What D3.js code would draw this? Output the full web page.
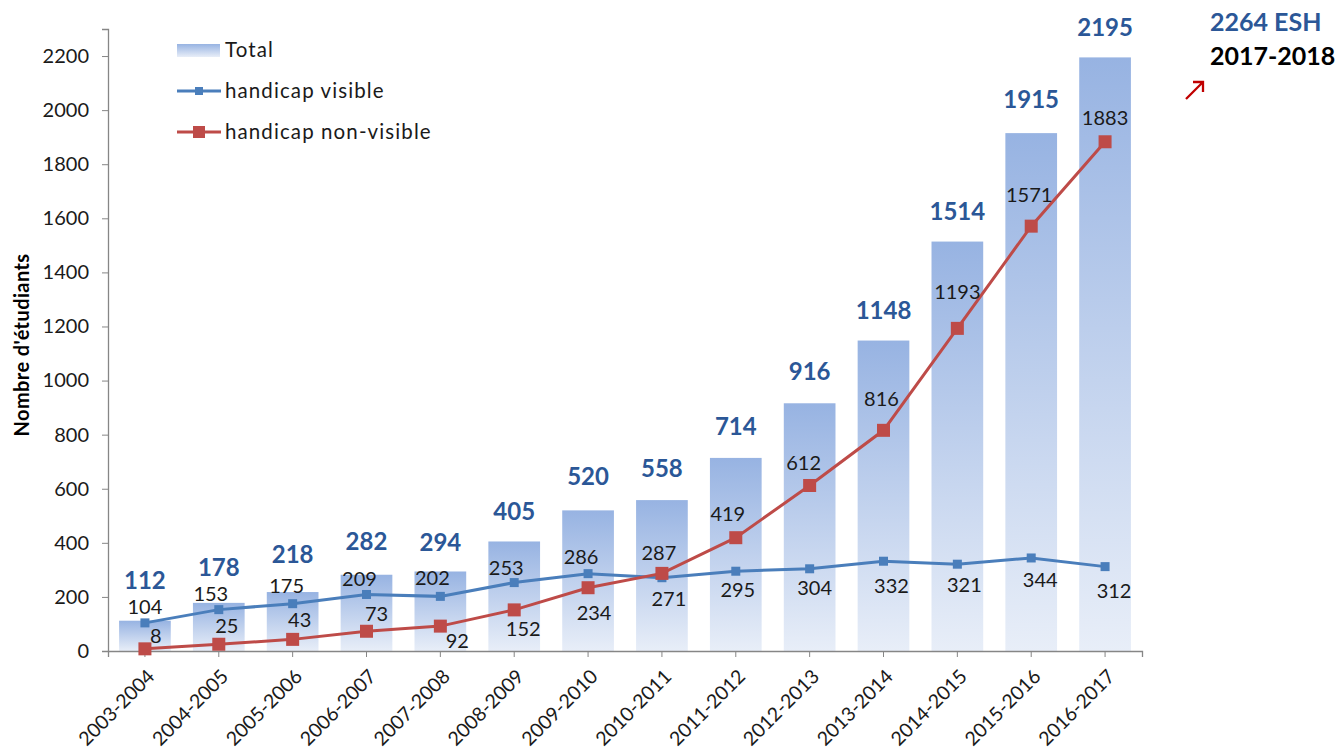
<!DOCTYPE html>
<html>
  <head>
    <meta charset="utf-8">
    <title>Nombre d'étudiants</title>
    <script src="https://cdn.jsdelivr.net/npm/d3@7/dist/d3.min.js"></script>
    <style>
      body {
        margin: 0;
        background: #fff;
      }
      svg {
        display: block;
        font-family: Lato, "Open Sans", sans-serif;
      }
    </style>
  </head>
  <body>
    <script>
    // data
    var years = ["2003-2004", "2004-2005", "2005-2006", "2006-2007", "2007-2008", "2008-2009", "2009-2010",
                 "2010-2011", "2011-2012", "2012-2013", "2013-2014", "2014-2015", "2015-2016", "2016-2017"];
    var total = [112, 178, 218, 282, 294, 405, 520, 558, 714, 916, 1148, 1514, 1915, 2195];
    var visible = [104, 153, 175, 209, 202, 253, 286, 271, 295, 304, 332, 321, 344, 312];
    var nonVisible = [8, 25, 43, 73, 92, 152, 234, 287, 419, 612, 816, 1193, 1571, 1883];
    var yTicks = [0, 200, 400, 600, 800, 1000, 1200, 1400, 1600, 1800, 2000, 2200];

    // label nudges (px), as placed in the original
    var totalLift = [40, 35, 37, 33, 29, 30, 34, 31, 31, 32, 30, 30, 34, 30];
    var visibleDx = [0, -8, -6, -7, -8, -8, -7, 7, 2, 5, 8, 7, 9, 9];
    var visibleDy = [-16, -16, -18, -15, -18, -15, -17, 21, 19, 19, 25, 21, 22, 24];
    var nonVisibleDx = [11, 8, 7, 10, 17, 9, 6, -3, -8, -6, -2, 0, -2, 0];
    var nonVisibleDy = [-13, -18, -19, -17, 15, 19, 25, -20, -24, -22, -31, -36, -31, -24];

    var W = 1340, H = 751;
    var blue = "#4a7ebb", red = "#be4b48", navy = "#2b5797";

    var svg = d3.select("body").append("svg")
      .attr("width", W)
      .attr("height", H);

    var defs = svg.append("defs");
    var grad = defs.append("linearGradient")
      .attr("id", "barGrad")
      .attr("x1", 0).attr("y1", 0).attr("x2", 0).attr("y2", 1);
    grad.append("stop").attr("offset", "0%").attr("stop-color", "#97b3e2");
    grad.append("stop").attr("offset", "100%").attr("stop-color", "#e8eef8");

    var x = d3.scaleBand()
      .domain(years)
      .range([108, 1142])
      .paddingInner(0.3)
      .paddingOuter(0.15);

    var y = d3.scaleLinear()
      .domain([0, 2300])
      .range([651, 29]);

    var cx = function (d, i) { return x(years[i]) + x.bandwidth() / 2; };

    // bars
    svg.append("g").selectAll("rect")
      .data(total)
      .enter().append("rect")
      .attr("x", function (d, i) { return x(years[i]); })
      .attr("y", function (d) { return y(d); })
      .attr("width", x.bandwidth())
      .attr("height", function (d) { return y(0) - y(d); })
      .attr("fill", "url(#barGrad)");

    // axes
    var yAxis = svg.append("g")
      .attr("transform", "translate(108,0)")
      .call(d3.axisLeft(y).tickValues(yTicks).tickFormat(d3.format("d")).tickSize(6).tickPadding(13));
    yAxis.select(".domain").attr("stroke", "#868686").attr("stroke-width", 1.3);
    yAxis.selectAll(".tick line").attr("stroke", "#868686");
    yAxis.selectAll(".tick text")
      .attr("font-size", 20)
      .attr("fill", "#1a1a1a")
      .attr("font-family", "Lato, sans-serif");

    var xAxis = svg.append("g")
      .attr("transform", "translate(0,651)")
      .call(d3.axisBottom(x).tickSize(6).tickSizeOuter(6));
    xAxis.select(".domain").attr("stroke", "#868686").attr("stroke-width", 1.3);
    xAxis.selectAll(".tick line").attr("stroke", "#868686");
    xAxis.selectAll(".tick text")
      .attr("font-size", 19.5)
      .attr("fill", "#1a1a1a")
      .attr("font-family", "Lato, sans-serif")
      .attr("text-anchor", "end")
      .attr("x", 0)
      .attr("y", 0)
      .attr("dy", "0.35em")
      .attr("transform", "translate(6,22) rotate(-45)");

    // lines
    var line = function (vals) {
      return d3.line()
        .x(function (d, i) { return cx(d, i); })
        .y(function (d) { return y(d); })(vals);
    };

    svg.append("path")
      .attr("d", line(visible))
      .attr("fill", "none")
      .attr("stroke", blue)
      .attr("stroke-width", 3);

    svg.append("path")
      .attr("d", line(nonVisible))
      .attr("fill", "none")
      .attr("stroke", red)
      .attr("stroke-width", 3);

    svg.append("g").selectAll("rect")
      .data(visible)
      .enter().append("rect")
      .attr("x", function (d, i) { return cx(d, i) - 4.5; })
      .attr("y", function (d) { return y(d) - 4.5; })
      .attr("width", 9)
      .attr("height", 9)
      .attr("fill", blue);

    svg.append("g").selectAll("rect")
      .data(nonVisible)
      .enter().append("rect")
      .attr("x", function (d, i) { return cx(d, i) - 6.5; })
      .attr("y", function (d) { return y(d) - 6.5; })
      .attr("width", 13)
      .attr("height", 13)
      .attr("fill", red);

    // labels
    svg.append("g").selectAll("text")
      .data(total)
      .enter().append("text")
      .attr("x", function (d, i) { return cx(d, i); })
      .attr("y", function (d, i) { return y(d) - totalLift[i]; })
      .attr("dy", "0.35em")
      .attr("text-anchor", "middle")
      .attr("font-size", 24)
      .attr("font-weight", "bold")
      .attr("fill", navy)
      .text(function (d) { return d; });

    svg.append("g").selectAll("text")
      .data(visible)
      .enter().append("text")
      .attr("x", function (d, i) { return cx(d, i) + visibleDx[i]; })
      .attr("y", function (d, i) { return y(d) + visibleDy[i]; })
      .attr("dy", "0.35em")
      .attr("text-anchor", "middle")
      .attr("font-size", 20)
      .attr("fill", "#1a1a1a")
      .text(function (d) { return d; });

    svg.append("g").selectAll("text")
      .data(nonVisible)
      .enter().append("text")
      .attr("x", function (d, i) { return cx(d, i) + nonVisibleDx[i]; })
      .attr("y", function (d, i) { return y(d) + nonVisibleDy[i]; })
      .attr("dy", "0.35em")
      .attr("text-anchor", "middle")
      .attr("font-size", 20)
      .attr("fill", "#1a1a1a")
      .text(function (d) { return d; });

    // y title
    svg.append("text")
      .attr("transform", "translate(29,345) rotate(-90)")
      .attr("text-anchor", "middle")
      .attr("font-size", 20)
      .attr("font-weight", "bold")
      .attr("letter-spacing", 0.4)
      .attr("fill", "#000")
      .text("Nombre d'étudiants");

    // legend
    var legend = svg.append("g").attr("transform", "translate(177,0)");
    legend.append("rect")
      .attr("x", 0).attr("y", 44).attr("width", 43).attr("height", 13)
      .attr("fill", "url(#barGrad)");
    legend.append("line")
      .attr("x1", 0).attr("x2", 44).attr("y1", 91).attr("y2", 91)
      .attr("stroke", blue).attr("stroke-width", 3);
    legend.append("rect")
      .attr("x", 18).attr("y", 87).attr("width", 8).attr("height", 8)
      .attr("fill", blue);
    legend.append("line")
      .attr("x1", 0).attr("x2", 44).attr("y1", 132).attr("y2", 132)
      .attr("stroke", red).attr("stroke-width", 3);
    legend.append("rect")
      .attr("x", 16).attr("y", 126).attr("width", 12).attr("height", 12)
      .attr("fill", red);
    legend.selectAll("text.lg")
      .data(["Total", "handicap visible", "handicap non-visible"])
      .enter().append("text")
      .attr("class", "lg")
      .attr("x", 48)
      .attr("y", function (d, i) { return 50 + i * 41; })
      .attr("dy", "0.35em")
      .attr("font-size", 20.5)
      .attr("letter-spacing", 1.1)
      .attr("fill", "#1a1a1a")
      .text(function (d) { return d; });

    // note top right
    svg.append("text")
      .attr("x", 1210).attr("y", 31)
      .attr("font-size", 25).attr("font-weight", "bold")
      .attr("fill", navy)
      .text("2264 ESH");
    svg.append("text")
      .attr("x", 1210).attr("y", 65)
      .attr("font-size", 25).attr("font-weight", "bold")
      .attr("fill", "#000")
      .text("2017-2018");

    svg.append("path")
      .attr("d", "M1186,99 L1202,83 M1193,82 L1203,82 L1203,92")
      .attr("fill", "none")
      .attr("stroke", "#c00000")
      .attr("stroke-width", 2.3);
    </script>
  </body>
</html>
